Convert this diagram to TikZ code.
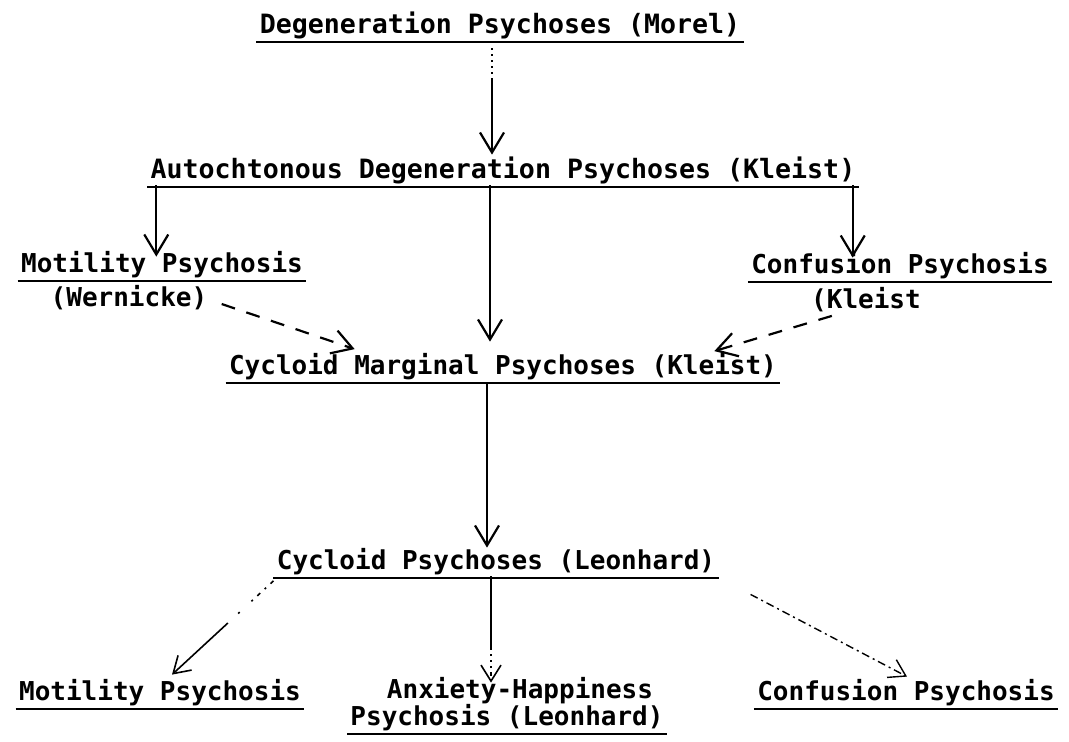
\documentclass[tikz,border=0pt]{standalone}
\usepackage{fontspec}
\newfontfamily\typefont{DejaVu Sans Mono}
\usetikzlibrary{arrows.meta}

\begin{document}
\begin{tikzpicture}[x=0.5pt, y=-0.5pt, font=\typefont\bfseries\fontsize{13}{15}\selectfont]
\tikzset{
  lbl/.style={inner sep=0pt, anchor=base, text height=0.75em, text depth=0.25em},
  widelbl/.style={lbl, font=\typefont\bfseries\fontsize{13.3}{15}\selectfont},
  uline/.style={line width=1.4pt},
  arr/.style={-{Straight Barb[length=10pt,width=12pt]}, line width=1.1pt},
  thinarr/.style={-{Straight Barb[length=8pt,width=10pt]}, line width=0.8pt},
  dashedarr/.style={arr, dash pattern=on 7pt off 6pt}
}
  \useasboundingbox (0,0) rectangle (1069,741);

  % levels
  \node[widelbl] (deg)  at (500,33)  {Degeneration Psychoses (Morel)};
  \node[widelbl] (auto) at (503,178) {Autochtonous Degeneration Psychoses (Kleist)};
  \node[lbl] (mot)  at (162,272) {Motility Psychosis};
  \node[lbl] (wern) at (129,306) {(Wernicke)};
  \node[lbl] (conf) at (900,273) {Confusion Psychosis};
  \node[lbl] (kle)  at (866,308) {(Kleist};
  \node[lbl] (cm)   at (503,374) {Cycloid Marginal Psychoses (Kleist)};
  \node[lbl] (cp)   at (496,569) {Cycloid Psychoses (Leonhard)};
  \node[lbl] (bmot) at (160,700) {Motility Psychosis};
  \node[lbl] (anx)  at (520,698) {Anxiety-Happiness};
  \node[lbl] (bpsy) at (507,725) {Psychosis (Leonhard)};
  \node[lbl] (bconf) at (906,700) {Confusion Psychosis};

  \foreach \n in {deg,auto,mot,conf,cm,cp,bmot,bpsy,bconf}
    \draw[uline] ([shift={(-3,9)}]\n.base west) -- ([shift={(3,9)}]\n.base east);

  % arrows
  \draw[arr, dash pattern=on 1pt off 2pt on 1pt off 2pt on 1pt off 2pt on 1pt off 2pt on 1pt off 2pt on 100pt, shorten <=5pt, shorten >=4pt]
    ([xshift=-4pt]deg.south) -- ([xshift=-4pt]deg.south |- auto.north);
  \draw[arr, shorten <=1pt] ([xshift=3pt]auto.south west) -- ([xshift=3pt]auto.south west |- mot.north);
  \draw[arr, shorten <=1pt, shorten >=8.5pt] ([xshift=-6.5pt]auto.south) -- ([xshift=-6.5pt]auto.south |- cm.north);
  \draw[arr, shorten <=1pt] ([xshift=-1.5pt]auto.south east) -- ([xshift=-1.5pt]auto.south east |- conf.north);
  \draw[dashedarr] ([xshift=7pt,yshift=-1.5pt]wern.east) -- ([xshift=63pt,yshift=4.75pt]cm.north west);
  \draw[dashedarr] ([xshift=10.5pt,yshift=-1.25pt]kle.south west) -- ([xshift=-31.5pt,yshift=3.75pt]cm.north east);
  \draw[arr, shorten <=2pt, shorten >=3pt] ([xshift=-8pt]cm.south) -- ([xshift=-8pt]cm.south |- cp.north);

  \draw[thinarr, dash pattern=on 2pt off 3pt on 1pt off 3pt on 2pt off 3pt on 1pt off 8pt on 1pt off 7pt on 100pt]
    ([xshift=-1.5pt,yshift=-3.25pt]cp.south west) -- ([xshift=6pt,yshift=5pt]bmot.north);
  \draw[thinarr, dash pattern=on 37pt off 2pt on 1pt off 2pt on 1pt off 2pt on 1pt off 2pt on 2pt, shorten <=1pt]
    ([xshift=-2.5pt]cp.south) -- ([xshift=-2.5pt]cp.south |- anx.north);
  \draw[thinarr, line width=0.7pt, dash pattern=on 4pt off 2pt on 1pt off 2pt]
    ([xshift=17.5pt,yshift=-10pt]cp.south east) -- ([xshift=0.5pt,yshift=4pt]bconf.north);
\end{tikzpicture}
\end{document}
